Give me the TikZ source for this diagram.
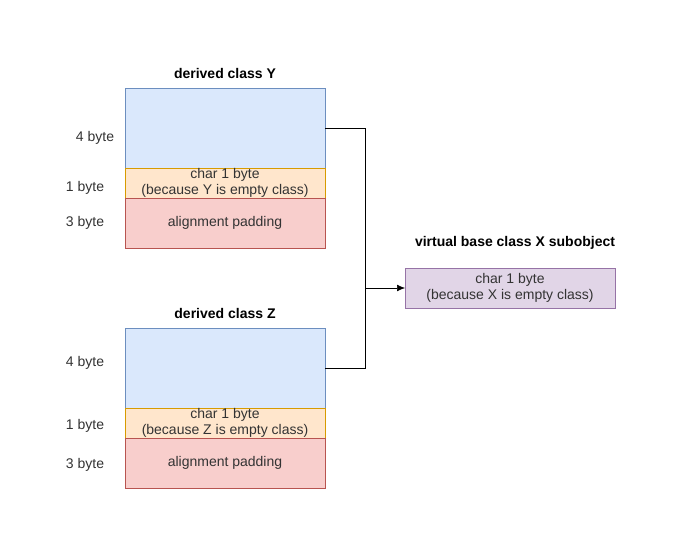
\documentclass[tikz,border=0pt]{standalone}
\usepackage{fontspec}
\setmainfont{Liberation Sans}
\usepackage{tikz}
\usetikzlibrary{arrows.meta}

\definecolor{bluefill}{HTML}{DAE8FC}
\definecolor{blueline}{HTML}{6C8EBF}
\definecolor{orangefill}{HTML}{FFE6CC}
\definecolor{orangeline}{HTML}{D79B00}
\definecolor{redfill}{HTML}{F8CECC}
\definecolor{redline}{HTML}{B85450}
\definecolor{purplefill}{HTML}{E1D5E7}
\definecolor{purpleline}{HTML}{9673A6}

\begin{document}
\begin{tikzpicture}[x=0.75pt,y=-0.75pt,
  every node/.style={font=\fontsize{10.5}{12}\selectfont, text=black!80},
  cell/.style={draw, inner sep=0pt, outer sep=0pt, minimum width=150pt, align=center},
  word/.style={draw, fill=bluefill, draw=blueline, cell, minimum height=60pt},
  chr/.style={fill=orangefill, draw=orangeline, cell, minimum height=22.5pt},
  pad/.style={fill=redfill, draw=redline, cell, minimum height=37.5pt},
  title/.style={font=\fontsize{10.5}{12}\selectfont\bfseries, text=black}]
\useasboundingbox (0,0) rectangle (681,552);
% derived class Y
\node[title] (ytitle) at (225,73) {derived class Y};
\node[word] (yword) at (225,128) {};
\node[chr] (ychar) at (225,183) {char 1 byte\\(because Y is empty class)};
\node[pad] (ypad) at (225,223) {alignment padding};
\node (ylab4) at (95,138) {4 byte};
\node (ylab1) at (85,188) {1 byte};
\node (ylab3) at (85,223) {3 byte};
% derived class Z
\node[title] (ztitle) at (225,313) {derived class Z};
\node[word] (zword) at (225,368) {};
\node[chr] (zchar) at (225,423) {char 1 byte\\(because Z is empty class)};
\node[pad] (zpad) at (225,463) {alignment padding};
\node (zlab4) at (85,363) {4 byte};
\node (zlab1) at (85,426) {1 byte};
\node (zlab3) at (85,465) {3 byte};
% virtual base X
\node[title] (xtitle) at (515,243) {virtual base class X subobject};
\node[cell, fill=purplefill, draw=purpleline, minimum width=157.5pt, minimum height=30pt] (xobj) at (510,288) {char 1 byte\\(because X is empty class)};
% arrows
\coordinate (join) at (365,288);
\draw (yword.east) -| (join);
\draw (zword.east) -| (join);
\draw[-{Latex[length=6pt,width=5pt]}] (join) -- (xobj.west);
\end{tikzpicture}
\end{document}
